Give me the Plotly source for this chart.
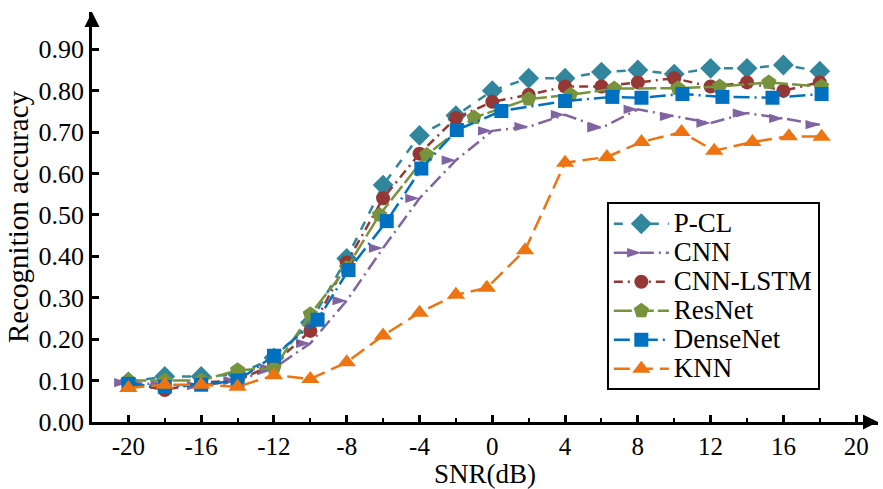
import plotly.graph_objects as go

# ---------------- data ----------------
snr = [-20, -18, -16, -14, -12, -10, -8, -6, -4, -2, 0, 2, 4, 6, 8, 10, 12, 14, 16, 18]

pcl_y = [0.097, 0.11, 0.11, 0.115, 0.155, 0.24, 0.395, 0.572, 0.692, 0.74,
         0.80, 0.83, 0.83, 0.845, 0.85, 0.84, 0.854, 0.854, 0.862, 0.847]
cnn_y = [0.095, 0.09, 0.088, 0.10, 0.13, 0.19, 0.293, 0.42, 0.54, 0.632,
         0.703, 0.713, 0.742, 0.71, 0.755, 0.738, 0.722, 0.746, 0.733, 0.718]
cnnlstm_y = [0.095, 0.077, 0.095, 0.10, 0.14, 0.22, 0.385, 0.54, 0.648, 0.734,
             0.773, 0.79, 0.81, 0.81, 0.82, 0.83, 0.81, 0.82, 0.80, 0.82]

resnet_x = [-20, -18, -16, -14, -12, -10, -8, -6.2, -3.6, -1, 2, 4.3, 6.7, 10.2, 12.5, 15.2, 18.1]
resnet_y = [0.10, 0.10, 0.10, 0.125, 0.13, 0.26, 0.372, 0.50, 0.645, 0.735,
            0.78, 0.79, 0.805, 0.806, 0.81, 0.82, 0.81]

densenet_x = [-20, -18, -16, -14, -12, -9.6, -7.9, -5.8, -3.9, -1.95, 0.5, 4.0,
              6.6, 8.2, 10.45, 12.65, 15.4, 18.1]
densenet_y = [0.092, 0.085, 0.09, 0.10, 0.16, 0.247, 0.367, 0.485, 0.612, 0.705,
              0.751, 0.775, 0.785, 0.783, 0.792, 0.785, 0.783, 0.792]

knn_x = [-20, -18, -16, -14, -12, -10, -8, -6, -4, -2, -0.3, 1.8, 4, 6.3, 8.2,
         10.4, 12.2, 14.3, 16.3, 18.1]
knn_y = [0.082, 0.09, 0.09, 0.085, 0.113, 0.104, 0.144, 0.209, 0.264, 0.307,
         0.324, 0.415, 0.626, 0.64, 0.676, 0.70, 0.655, 0.676, 0.69, 0.689]

x_ticks = [-20, -16, -12, -8, -4, 0, 4, 8, 12, 16, 20]
y_ticks = [0.0, 0.1, 0.2, 0.3, 0.4, 0.5, 0.6, 0.7, 0.8, 0.9]

FONT = "Liberation Serif"

series = [
    ("P-CL", snr, pcl_y, "#31859C", "dash", "diamond", 16, 0),
    ("CNN", snr, cnn_y, "#8064A2", "14px,5px,2px,5px", "arrow", 15, 90),
    ("CNN-LSTM", snr, cnnlstm_y, "#953735", "9px,5px,2px,5px", "circle", 14, 0),
    ("ResNet", resnet_x, resnet_y, "#77933C", "18px,4px", "pentagon", 16, 0),
    ("DenseNet", densenet_x, densenet_y, "#0070C0", "16px,5px,2px,5px", "square", 14, 0),
    ("KNN", knn_x, knn_y, "#EE7411", "16px,7px", "triangle-up", 16, 0),
]

fig = go.Figure()
for name, xs, ys, col, dash, sym, size, ang in series:
    fig.add_trace(go.Scatter(
        x=xs, y=ys, mode="lines+markers",
        name='<span style="font-size:27px">%s</span>' % name,
        line=dict(color=col, width=2.5, dash=dash),
        marker=dict(symbol=sym, size=size, color=col, angle=ang, line=dict(width=0)),
    ))

fig.update_layout(
    width=883, height=489,
    margin=dict(l=92, r=5, t=12, b=64),
    paper_bgcolor="white", plot_bgcolor="white",
    font=dict(family=FONT, size=26, color="black"),
    showlegend=True,
    legend=dict(
        x=0.655, y=0.536, xanchor="left", yanchor="top",
        bordercolor="black", borderwidth=2, bgcolor="white",
        font=dict(family=FONT, size=20, color="black"),
        tracegroupgap=0, itemwidth=55,
    ),
)

fig.update_xaxes(
    range=[-22, 21.2], tickvals=x_ticks, ticktext=[str(v) for v in x_ticks],
    showline=True, linecolor="black", linewidth=2.5,
    ticks="inside", ticklen=7, tickwidth=2.5, tickcolor="black",
    minor=dict(dtick=2, tick0=0, ticks="inside", ticklen=4, tickwidth=2, tickcolor="black"),
    showgrid=False, zeroline=False,
    tickfont=dict(family=FONT, size=25),
    title=dict(text="SNR(dB)", font=dict(family=FONT, size=27), standoff=5),
)
fig.update_yaxes(
    range=[0, 0.99], tickvals=y_ticks, ticktext=["%.2f" % v for v in y_ticks],
    showline=True, linecolor="black", linewidth=2.5,
    ticks="inside", ticklen=7, tickwidth=2.5, tickcolor="black",
    showgrid=False, zeroline=False,
    tickfont=dict(family=FONT, size=26),
    title=dict(text="Recognition accuracy", font=dict(family=FONT, size=29), standoff=2),
)

# axis arrowheads
fig.add_annotation(x=1.0, y=0, xref="paper", yref="paper", ax=-12, ay=0,
                   showarrow=True, arrowhead=2, arrowsize=1.2, arrowwidth=2.5,
                   arrowcolor="black", text="")
fig.add_annotation(x=0, y=1.0, xref="paper", yref="paper", ax=0, ay=12,
                   showarrow=True, arrowhead=2, arrowsize=1.2, arrowwidth=2.5,
                   arrowcolor="black", text="")

fig.write_html("out.html")
